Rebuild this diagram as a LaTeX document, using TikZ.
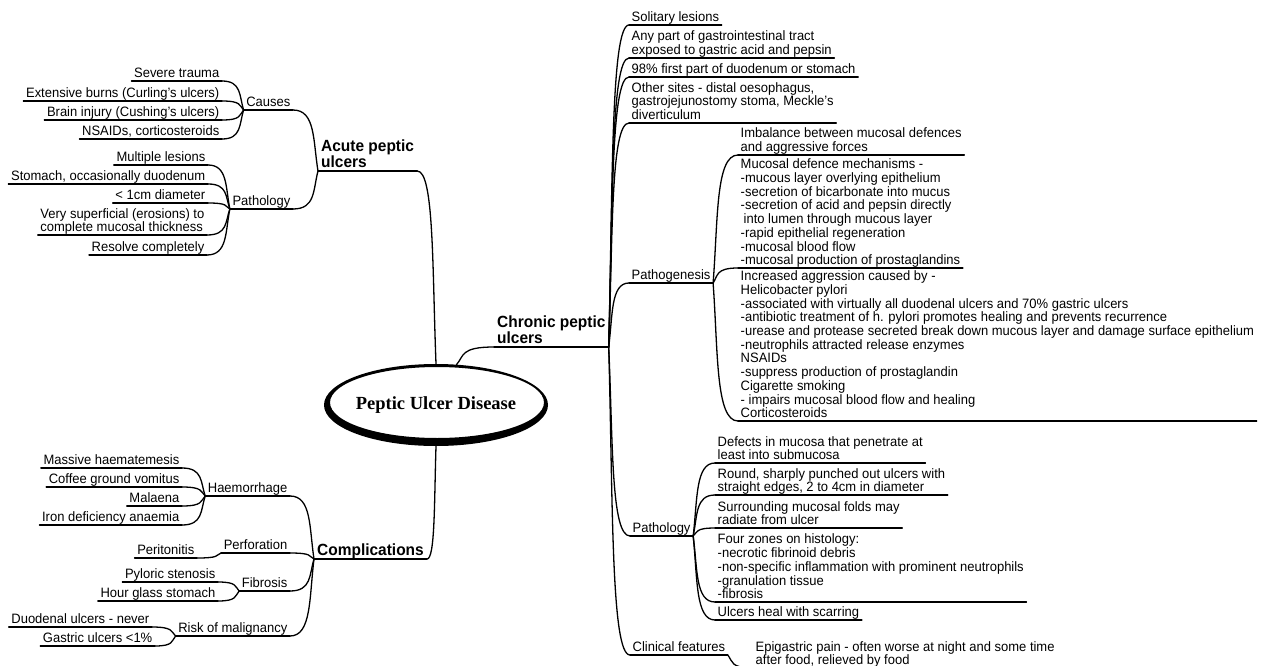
\documentclass[tikz,border=0pt]{standalone}
\usepackage{fontspec}
\setmainfont{Liberation Sans}[FakeStretch=0.955]
\newfontfamily\pudserif{Liberation Serif}
\usetikzlibrary{calc,shapes.geometric}
\newcommand\mmlink[2]{\draw[ln] let \p1=(#1), \p2=(#2) in (\p1) .. controls ({\x1+0.2*(\x2-\x1)},{\y1+0.5*(\y2-\y1)}) and ({\x1+0.1*(\x2-\x1)},\y2) .. (\p2);}
\begin{document}
\begin{tikzpicture}[x=1pt,y=-1pt,
  ln/.style={line width=1.3pt,black,line cap=round},
  tp/.style={font=\fontsize{13.6}{13.7}\selectfont,inner xsep=2.5pt,inner ysep=0.8pt,text depth=2.3pt,align=left},
  lft/.style={tp,anchor=south east},
  rgt/.style={tp,anchor=south west},
  mainb/.style={font=\bfseries\fontsize{16.2}{16.5}\selectfont,inner xsep=3pt,inner ysep=0.8pt,text depth=2.5pt,align=left,anchor=south west}]
\path[use as bounding box] (0,0) rectangle (1271,666);
\fill[white] (0,0) rectangle (1271,666);
\clip (0,0) rectangle (1271,666);
% central topic
\fill[black,even odd rule] (436,405) ellipse [x radius=112pt,y radius=41pt] (437,402.5) ellipse [x radius=107pt,y radius=35.5pt];
\node[ellipse,minimum width=224pt,minimum height=82pt,inner sep=0pt,font=\pudserif\bfseries\fontsize{18.5}{20}\selectfont] (main) at (436,405) {Peptic Ulcer Disease};
% main branches
\node[mainb] (acute) at (318,171) {Acute peptic\\ulcers};
\node[mainb] (comp) at (314,559) {Complications};
\node[mainb] (chronic) at (494,347) {Chronic peptic\\ulcers};
% acute
\node[lft] (causes) at (293,110) {Causes};
\node[lft] (ca1) at (222,81) {Severe trauma};
\node[lft] (ca2) at (222,101) {Extensive burns (Curling's ulcers)};
\node[lft] (ca3) at (222,120) {Brain injury (Cushing's ulcers)};
\node[lft] (ca4) at (222,139) {NSAIDs, corticosteroids};
\node[lft] (apath) at (293,209) {Pathology};
\node[lft] (ap1) at (208,165) {Multiple lesions};
\node[lft] (ap2) at (208,184) {Stomach, occasionally duodenum};
\node[lft] (ap3) at (208,203) {< 1cm diameter};
\node[lft] (ap4) at (207,235) {Very superficial (erosions) to\\complete mucosal thickness};
\node[lft] (ap5) at (207,255) {Resolve completely};
% complications
\node[lft] (haem) at (290,496) {Haemorrhage};
\node[lft] (hm1) at (182,468) {Massive haematemesis};
\node[lft] (hm2) at (182,487) {Coffee ground vomitus};
\node[lft] (hm3) at (182,506) {Malaena};
\node[lft] (hm4) at (182,525) {Iron deficiency anaemia};
\node[lft] (perf) at (290,553) {Perforation};
\node[lft] (perit) at (197,558) {Peritonitis};
\node[lft] (fib) at (290,591) {Fibrosis};
\node[lft] (fb1) at (218,582) {Pyloric stenosis};
\node[lft] (fb2) at (218,601) {Hour glass stomach};
\node[lft] (risk) at (290,636) {Risk of malignancy};
\node[lft] (rk1) at (152,627) {Duodenal ulcers - never};
\node[lft] (rk2) at (155,646) {Gastric ulcers <1\%};
% chronic
\node[rgt] (sol) at (629,25) {Solitary lesions};
\node[rgt] (any) at (629,58) {Any part of gastrointestinal tract\\exposed to gastric acid and pepsin};
\node[rgt] (n98) at (629,77) {98\% first part of duodenum or stomach};
\node[rgt] (oth) at (629,123) {Other sites - distal oesophagus,\\gastrojejunostomy stoma, Meckle's\\diverticulum};
\node[rgt] (pg) at (629,283) {Pathogenesis};
\node[rgt] (pg1) at (738,155) {Imbalance between mucosal defences\\and aggressive forces};
\node[rgt] (pg2) at (738,268) {Mucosal defence mechanisms -\\-mucous layer overlying epithelium\\-secretion of bicarbonate into mucus\\-secretion of acid and pepsin directly\\\hspace*{3pt}into lumen through mucous layer\\-rapid epithelial regeneration\\-mucosal blood flow\\-mucosal production of prostaglandins};
\node[rgt] (pg3) at (738,421) {Increased aggression caused by -\\Helicobacter pylori\\-associated with virtually all duodenal ulcers and 70\% gastric ulcers\\-antibiotic treatment of h. pylori promotes healing and prevents recurrence\\-urease and protease secreted break down mucous layer and damage surface epithelium\\-neutrophils attracted release enzymes\\NSAIDs\\-suppress production of prostaglandin\\Cigarette smoking\\- impairs mucosal blood flow and healing\\Corticosteroids};
\node[rgt] (cpath) at (630,536) {Pathology};
\node[rgt] (cp1) at (715,463) {Defects in mucosa that penetrate at\\least into submucosa};
\node[rgt] (cp2) at (715,495) {Round, sharply punched out ulcers with\\straight edges, 2 to 4cm in diameter};
\node[rgt] (cp3) at (715,528) {Surrounding mucosal folds may\\radiate from ulcer};
\node[rgt] (cp4) at (715,602) {Four zones on histology:\\-necrotic fibrinoid debris\\-non-specific inflammation with prominent neutrophils\\-granulation tissue\\-fibrosis};
\node[rgt] (cp5) at (715,620) {Ulcers heal with scarring};
\node[rgt] (clin) at (630,655) {Clinical features};
\node[rgt] (cf1) at (753,668) {Epigastric pain - often worse at night and some time\\after food, relieved by food};
% underlines
\foreach \n in {acute,comp,chronic,causes,ca1,ca2,ca3,ca4,apath,ap1,ap2,ap3,ap4,ap5,haem,hm1,hm2,hm3,hm4,perf,perit,fib,fb1,fb2,risk,rk1,rk2,sol,any,n98,oth,pg,pg1,pg2,pg3,cpath,cp1,cp2,cp3,cp4,cp5,clin,cf1}
  {\draw[ln] (\n.south west) -- (\n.south east);}
% connectors
\mmlink{main.north}{acute.south east}
\mmlink{main.63}{chronic.south west}
\mmlink{main.south}{comp.south east}
\foreach \c in {causes,apath} {\mmlink{acute.south west}{\c.south east}}
\foreach \c in {ca1,ca2,ca3,ca4} {\mmlink{causes.south west}{\c.south east}}
\foreach \c in {ap1,ap2,ap3,ap4,ap5} {\mmlink{apath.south west}{\c.south east}}
\foreach \c in {haem,perf,fib,risk} {\mmlink{comp.south west}{\c.south east}}
\foreach \c in {hm1,hm2,hm3,hm4} {\mmlink{haem.south west}{\c.south east}}
\mmlink{perf.south west}{perit.south east}
\foreach \c in {fb1,fb2} {\mmlink{fib.south west}{\c.south east}}
\foreach \c in {rk1,rk2} {\mmlink{risk.south west}{\c.south east}}
\foreach \c in {sol,any,n98,oth,pg,cpath,clin} {\mmlink{chronic.south east}{\c.south west}}
\foreach \c in {pg1,pg2,pg3} {\mmlink{pg.south east}{\c.south west}}
\foreach \c in {cp1,cp2,cp3,cp4,cp5} {\mmlink{cpath.south east}{\c.south west}}
\mmlink{clin.south east}{cf1.south west}
\end{tikzpicture}
\end{document}
